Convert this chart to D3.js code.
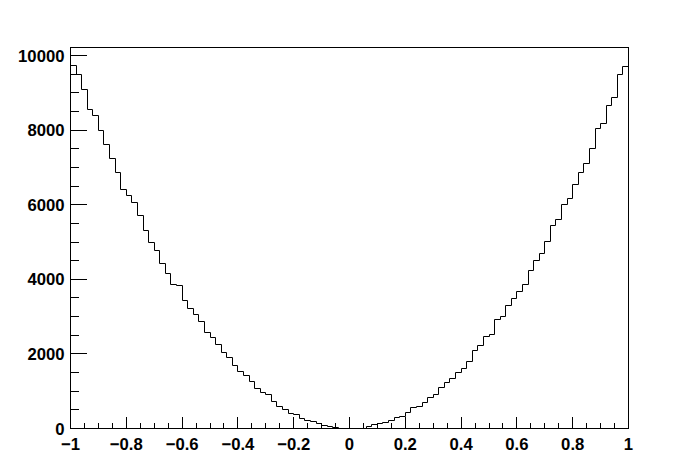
<!DOCTYPE html>
<html>
<head>
<meta charset="utf-8">
<script src="https://cdn.jsdelivr.net/npm/d3@7"></script>
<style>
  html, body { margin: 0; padding: 0; background: #ffffff; }
  svg { display: block; }
  .lbl text { font-family: "Liberation Sans", Arial, Helvetica, sans-serif; font-weight: bold; font-size: 16.7px; fill: #000; }
</style>
</head>
<body>
<svg id="chart" width="698" height="476"></svg>
<script>
// ---- data ----
const xMin = -1, xMax = 1, nBins = 100;
const binCounts = [
  9732, 9483, 9080, 8544, 8391, 7989, 7614, 7230, 6871, 6399,
  6260, 6051, 5710, 5300, 4978, 4764, 4424, 4147, 3869, 3834,
  3432, 3212, 3060, 2870, 2565, 2431, 2252, 2029, 1895, 1680,
  1528, 1412, 1268, 1064, 973, 903, 724, 600, 520, 394,
  367, 260, 225, 185, 130, 70, 42, 20, 12, 2,
  1, 4, 12, 54, 98, 134, 152, 206, 282, 335,
  420, 560, 585, 690, 822, 903, 1110, 1230, 1335, 1490,
  1600, 1792, 2087, 2217, 2458, 2512, 2914, 2990, 3285, 3477,
  3665, 3850, 4228, 4500, 4688, 5005, 5442, 5594, 6013, 6157,
  6537, 6871, 7096, 7499, 8035, 8169, 8651, 8883, 9482, 9705
];
const yMax = 10215;
const xMajorTicks = [-1, -0.8, -0.6, -0.4, -0.2, 0, 0.2, 0.4, 0.6, 0.8, 1];
const xTickLabels = ["\u22121", "\u22120.8", "\u22120.6", "\u22120.4", "\u22120.2", "0", "0.2", "0.4", "0.6", "0.8", "1"];
const yMajorTicks = [0, 2000, 4000, 6000, 8000, 10000];
const yTickLabels = ["0", "2000", "4000", "6000", "8000", "10000"];
const xMinorStep = 0.05;
const yMinorStep = 500;

// ---- layout ----
const frame = { left: 70, right: 628, top: 47, bottom: 428 };
const svg = d3.select("#chart");

const x = d3.scaleLinear().domain([xMin, xMax]).range([frame.left, frame.right]);
const y = d3.scaleLinear().domain([0, yMax]).range([frame.bottom, frame.top]);

const binW = (xMax - xMin) / nBins;
const px = v => Math.round(x(v)) + 0.5;
const py = v => Math.round(y(v)) + 0.5;

// histogram step outline
let d = `M${px(xMin)},${py(0)}`;
binCounts.forEach((c, i) => {
  const x0 = xMin + i * binW, x1 = xMin + (i + 1) * binW;
  d += `L${px(x0)},${py(c)}L${px(x1)},${py(c)}`;
});
d += `L${px(xMax)},${py(0)}`;
svg.append("path").attr("d", d).attr("fill", "none").attr("stroke", "#000").attr("stroke-width", 1);

// frame
svg.append("rect")
  .attr("x", frame.left + 0.5).attr("y", frame.top + 0.5)
  .attr("width", frame.right - frame.left).attr("height", frame.bottom - frame.top)
  .attr("fill", "none").attr("stroke", "#000").attr("stroke-width", 1);

const majorY = 0.03 * (frame.right - frame.left);
const majorX = 0.03 * (frame.bottom - frame.top);

// minor ticks
const xMinor = d3.range(xMin, xMax + 1e-9, xMinorStep).map(v => +v.toFixed(4));
const yMinor = d3.range(0, yMax, yMinorStep);

const xAxisMinor = d3.axisBottom(x).tickValues(xMinor).tickSize(-majorX / 2).tickFormat("");
const yAxisMinor = d3.axisLeft(y).tickValues(yMinor).tickSize(-majorY / 2).tickFormat("");
const xAxis = d3.axisBottom(x).tickValues(xMajorTicks).tickSize(-majorX).tickPadding(9.5)
  .tickFormat((v, i) => xTickLabels[i]);
const yAxis = d3.axisLeft(y).tickValues(yMajorTicks).tickSize(-majorY).tickPadding(6)
  .tickFormat((v, i) => yTickLabels[i]);

function place(g) {
  g.select(".domain").remove();
  g.selectAll("line").attr("stroke", "#000").attr("shape-rendering", "crispEdges");
  g.attr("font-family", null).attr("font-size", null);
}

svg.append("g").attr("class", "lbl").attr("transform", `translate(0,${frame.bottom + 0.5})`).call(xAxisMinor).call(place);
svg.append("g").attr("class", "lbl").attr("transform", `translate(${frame.left + 0.5},0)`).call(yAxisMinor).call(place);
svg.append("g").attr("class", "lbl").attr("transform", `translate(0,${frame.bottom + 0.5})`).call(xAxis).call(place);
const gy = svg.append("g").attr("class", "lbl").attr("transform", `translate(${frame.left + 0.5},0)`).call(yAxis).call(place);
gy.selectAll("text").attr("dy", "0.36em");
</script>
</body>
</html>
